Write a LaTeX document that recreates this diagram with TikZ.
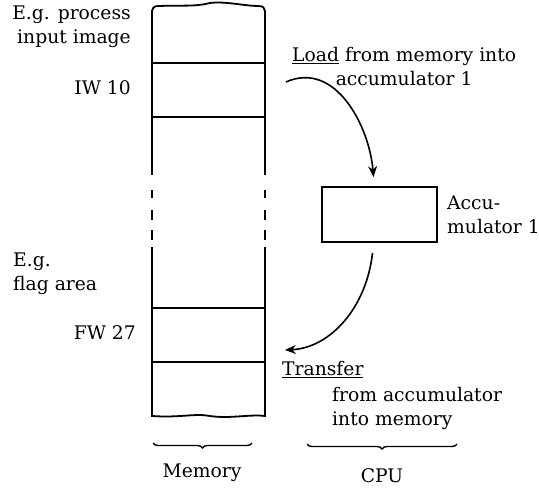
\documentclass[tikz,border=0pt]{standalone}
\usepackage{fontspec}
\setmainfont{DejaVu Serif}
\usetikzlibrary{arrows.meta,decorations.pathreplacing}
\begin{document}
\begin{tikzpicture}[x=1bp,y=-1bp,
  every node/.style={font=\fontsize{18.8}{24}\selectfont, inner sep=0pt},
  ln/.style={line width=1.8bp},
  cell/.style={ln, draw, rectangle, minimum width=113bp, minimum height=54bp},
  arr/.style={line width=1.6bp, -{Stealth[length=11bp,width=9bp]}},
  brc/.style={line width=1.4bp, decorate, decoration={brace, mirror, amplitude=5bp}}]
\useasboundingbox (0,0) rectangle (539,493);
% memory outline
\draw[ln] (152,175) -- (152,11) .. controls (153,6) and (156,6) .. (160,6)
  .. controls (180,5) and (195,7) .. (210,3) .. controls (225,1) and (245,6) .. (258,6)
  .. controls (263,6) and (265,8) .. (265,11) -- (265,175);
\draw[ln] (152,190) -- (152,198) (152,210) -- (152,220) (152,230) -- (152,240);
\draw[ln] (265,190) -- (265,198) (265,210) -- (265,220) (265,230) -- (265,240);
\draw[ln] (152,247) -- (152,416) .. controls (180,418) and (195,413) .. (210,416)
  .. controls (230,419) and (250,414) .. (265,416) -- (265,247);
\node[cell] (iw) at (208.5,90) {};
\node[cell] (fw) at (208.5,335) {};
% left labels
\node[anchor=north east, align=right] (lab1) at (131,6) {E.g. process\\input image};
\node[anchor=north east] (lab2) at (131,80) {IW 10};
\node[anchor=north west, align=left] (lab3) at (13,253) {E.g.\\flag area};
\node[anchor=north east] (lab4) at (136,325) {FW 27};
% accumulator
\node[ln, draw, rectangle, minimum width=115bp, minimum height=55bp] (acc) at (379.5,214.5) {};
\node[anchor=north west, align=left] (acclab) at (447,196) {Accu-\\mulator 1};
\node[anchor=north west, align=center] (loadlab) at (292,47) {\underline{Load} from memory into\\accumulator 1};
\node[anchor=north west] (trlab) at (282,361) {\underline{Transfer}};
\node[anchor=north west, align=left] (trlab2) at (332,387) {from accumulator\\into memory};
% arrows
\coordinate (ls) at ([xshift=20bp,yshift=8bp]iw.east);
\coordinate (le) at ([xshift=-6bp,yshift=9bp]acc.north);
\draw[arr] (ls) .. controls ([xshift=50bp,yshift=22bp]ls) and ([xshift=-4bp,yshift=50bp]le) .. (le);
\coordinate (ts) at ([xshift=-7bp,yshift=-10bp]acc.south);
\coordinate (te) at ([xshift=19bp,yshift=-15bp]fw.east);
\draw[arr] (ts) .. controls ([xshift=-6bp,yshift=-55bp]ts) and ([xshift=45bp,yshift=2bp]te) .. (te);
% braces
\coordinate (mb1) at (153,443);
\coordinate (mb2) at (252,443);
\draw[brc] (mb1) -- (mb2);
\node[anchor=base] (mem) at (202,477) {Memory};
\coordinate (cb1) at (307,444);
\coordinate (cb2) at (457,444);
\draw[brc] (cb1) -- (cb2);
\node[anchor=base] (cpu) at (382,482) {CPU};
\end{tikzpicture}
\end{document}
